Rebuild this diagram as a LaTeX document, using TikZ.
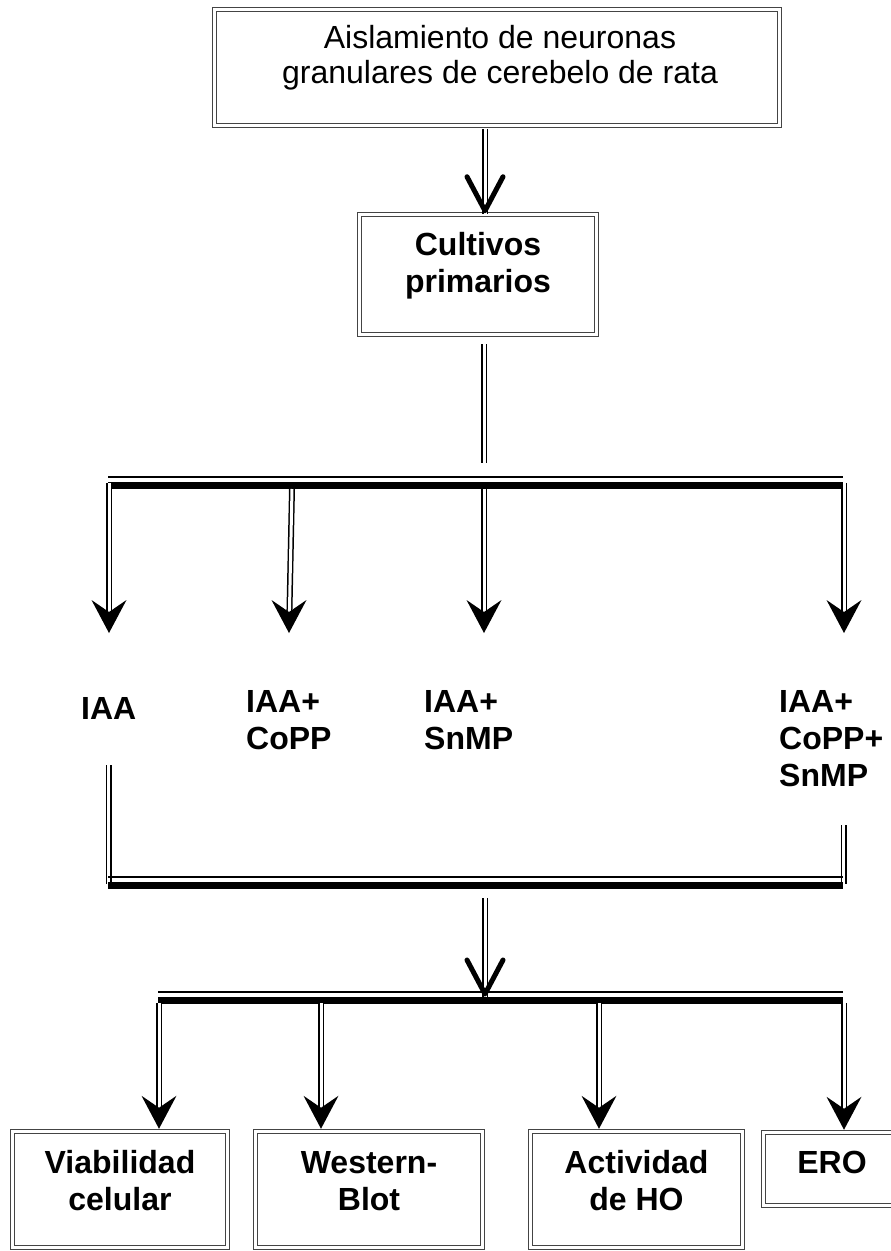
\documentclass[tikz,border=0pt]{standalone}
\usepackage{fontspec}
\setmainfont{Liberation Sans}
\usetikzlibrary{calc}
\definecolor{boxgray}{HTML}{444444}
\newcommand{\tlines}[2]{\begin{tabular}[t]{@{}#1@{}}#2\end{tabular}}
\begin{document}
\begin{tikzpicture}[x=1pt,y=-1pt,
  dbox/.style={draw=boxgray, line width=1.5pt, double=white, double distance=2.6pt, inner sep=0pt},
  dline/.style={draw=black, line width=1.5pt, double=white, double distance=3pt},
  thinbar/.style={draw=black, line width=2pt},
  thickbar/.style={draw=black, line width=6.5pt},
  bt/.style={font=\fontsize{32}{37}\selectfont\bfseries, inner sep=0pt},
  rt/.style={font=\fontsize{32}{35}\selectfont, inner sep=0pt},
  fhead/.pic={\fill[black] (0,0) -- (-17.5,-33) -- (0,-21) -- (17.5,-33) -- cycle;},
  vhead/.pic={\draw[black, line width=5pt, line cap=round, line join=round] (-18,-37) -- (0,-3) -- (18,-37);}
]
\useasboundingbox (0,0) rectangle (891,1251);

% boxes
\node[dbox, minimum width=565pt, minimum height=116pt] (top) at (497,67.5) {};
\node[rt, anchor=base] (toptxt) at (500,48) {\tlines{c}{Aislamiento de neuronas\\granulares de cerebelo de rata}};
\node[dbox, minimum width=237pt, minimum height=120pt] (cult) at (478,274.5) {};
\node[bt, anchor=base] (culttxt) at (478,255) {\tlines{c}{Cultivos\\primarios}};

\node[dbox, minimum width=215pt, minimum height=116pt] (viab) at (120,1189.5) {};
\node[bt, anchor=base] (viabtxt) at (120,1173) {\tlines{c}{Viabilidad\\celular}};
\node[dbox, minimum width=227pt, minimum height=116pt] (west) at (369,1189.5) {};
\node[bt, anchor=base] (westtxt) at (369,1173) {\tlines{c}{Western-\\Blot}};
\node[dbox, minimum width=212pt, minimum height=116pt] (activ) at (636.5,1189.5) {};
\node[bt, anchor=base] (activtxt) at (636.5,1173) {\tlines{c}{Actividad\\de HO}};
\node[dbox, minimum width=137.5pt, minimum height=73pt] (ero) at (832.25,1169) {};
\node[bt, anchor=base] (erotxt) at (832,1173) {ERO};

% treatment labels
\node[bt, anchor=base west] (iaa) at (81,719) {IAA};
\node[bt, anchor=base west] (iaacopp) at (246,712) {\tlines{l}{IAA+\\CoPP}};
\node[bt, anchor=base west] (iaasnmp) at (424,712) {\tlines{l}{IAA+\\SnMP}};
\node[bt, anchor=base west] (iaaall) at (779,712) {\tlines{l}{IAA+\\CoPP+\\SnMP}};

% coordinates
\coordinate (ax) at (485,0);
\coordinate (c1) at (484,344);
\coordinate (c2) at (484,463);
\coordinate (b1L) at (108,481);
\coordinate (b1R) at (843,481);
\coordinate (q1) at (109,483);  \coordinate (p1) at (109,633);
\coordinate (q2) at (292,489);  \coordinate (p2) at (289,633);
\coordinate (q3) at (484,489);  \coordinate (p3) at (484,633);
\coordinate (q4) at (844,483);  \coordinate (p4) at (844,633);
\coordinate (l1) at (108.5,765); \coordinate (l2) at (108.5,884);
\coordinate (r1) at (843.5,825); \coordinate (r2) at (843.5,884);
\coordinate (b2L) at (108,881);
\coordinate (b2R) at (843,881);
\coordinate (m1) at (485,898);
\coordinate (m2) at (485,997);
\coordinate (b3L) at (158,996);
\coordinate (b3R) at (843,996);
\coordinate (s1) at (159,1003);
\coordinate (s2) at (321,1003);
\coordinate (s3) at (599,1003);
\coordinate (s4) at (844,1003);
\coordinate (e1) at ($(s1 |- viab.north)+(0,-2)$);
\coordinate (e2) at ($(s2 |- west.north)+(0,-2)$);
\coordinate (e3) at ($(s3 |- activ.north)+(0,-2)$);
\coordinate (e4) at ($(s4 |- ero.north)+(0,-2)$);

% top arrow
\draw[dline, shorten <=3pt] (top.south -| ax) -- (cult.north -| ax);
\pic at (cult.north -| ax) {vhead};

% from cultivos down
\draw[dline] (c1) -- (c2);

% bar 1
\draw[thinbar] ($(b1L)+(0,-4)$) -- ($(b1R)+(0,-4)$);
\draw[thickbar] ($(b1L)+(0,4.5)$) -- ($(b1R)+(0,4.5)$);
\foreach \q/\p in {q1/p1,q2/p2,q3/p3,q4/p4}{
  \draw[dline, shorten >=14pt] (\q) -- (\p);
  \pic at (\p) {fhead};
}

% down to bar 2
\draw[dline] (l1) -- (l2);
\draw[dline] (r1) -- (r2);
\draw[thinbar] ($(b2L)+(0,-4)$) -- ($(b2R)+(0,-4)$);
\draw[thickbar] ($(b2L)+(0,4.5)$) -- ($(b2R)+(0,4.5)$);

% center arrow
\draw[dline] (m1) -- (m2);
\pic at (m2) {vhead};

% bar 3
\draw[thinbar] ($(b3L)+(0,-4)$) -- ($(b3R)+(0,-4)$);
\draw[thickbar] ($(b3L)+(0,4.5)$) -- ($(b3R)+(0,4.5)$);
\foreach \s/\e in {s1/e1,s2/e2,s3/e3,s4/e4}{
  \draw[dline, shorten >=14pt] (\s) -- (\e);
  \pic at (\e) {fhead};
}
\end{tikzpicture}
\end{document}
